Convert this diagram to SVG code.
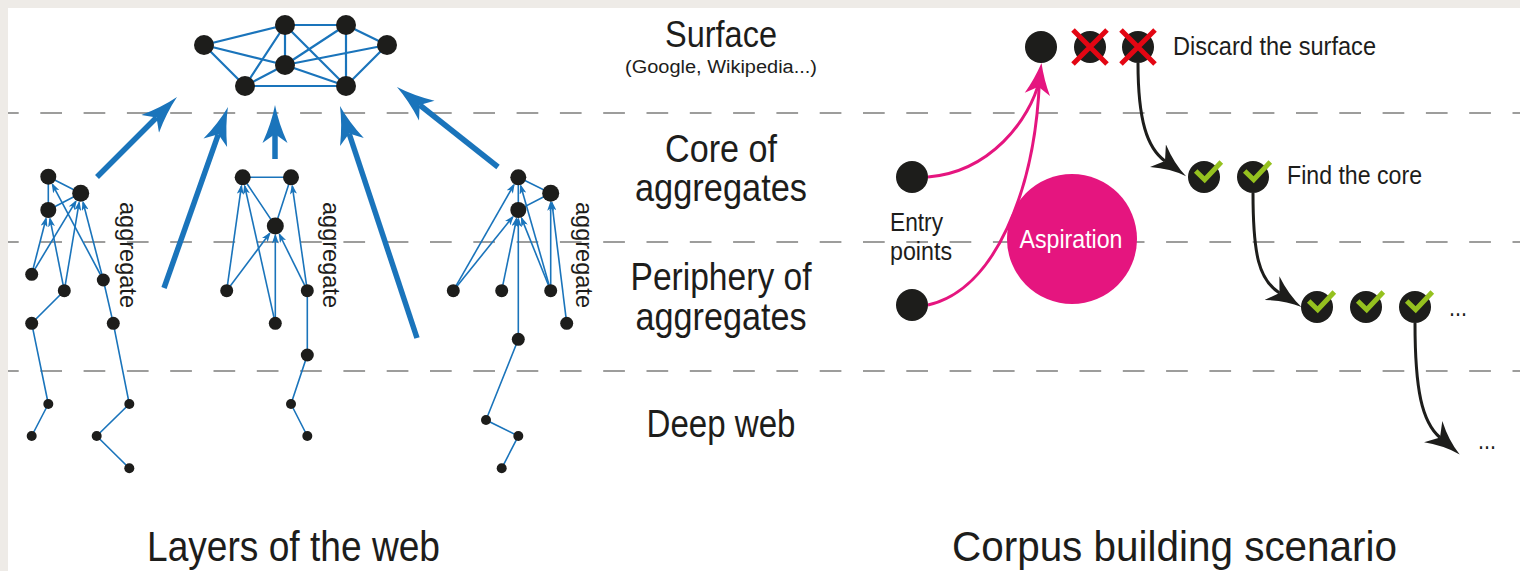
<svg xmlns="http://www.w3.org/2000/svg" width="1520" height="571" viewBox="0 0 1520 571">
<style>
.dash{stroke:#9d9d9c;stroke-width:2;stroke-dasharray:21.7 21.6;stroke-dashoffset:11;fill:none}
.net{stroke:#1a74bb;stroke-width:2.2;fill:none}
.thin{stroke:#1a74bb;stroke-width:1.6;fill:none}
.tarr{stroke:#1a74bb;stroke-width:1.6;fill:none;marker-end:url(#smallHead)}
.big{stroke:#1a74bb;stroke-width:5.5;fill:none;marker-end:url(#bigHead)}
.n{fill:#1d1d1b}
.t{font-family:"Liberation Sans",Arial,sans-serif;fill:#1d1d1b}
.pink{stroke:#e5157f;stroke-width:3;fill:none}
.blk{stroke:#1d1d1b;stroke-width:3;fill:none;marker-end:url(#blkHead)}
</style>
<defs>
<marker id="bigHead" markerUnits="userSpaceOnUse" viewBox="0 0 38 26" markerWidth="38" markerHeight="26" refX="9" refY="13" orient="auto"><path d="M0,0.5 Q20,9.5 38,13 Q20,16.5 0,25.5 L9,13 Z" fill="#1a74bb"/></marker>
<marker id="smallHead" markerUnits="userSpaceOnUse" viewBox="0 0 10 7" markerWidth="10" markerHeight="7" refX="8" refY="3.5" orient="auto"><path d="M0,0 L10,3.5 L0,7 L2.5,3.5 Z" fill="#1a74bb"/></marker>
<marker id="blkHead" markerUnits="userSpaceOnUse" viewBox="0 0 35 28" markerWidth="35" markerHeight="28" refX="9" refY="14" orient="auto"><path d="M0,0 Q18,11 35,14 Q18,17 0,28 L9,14 Z" fill="#1d1d1b"/></marker>
<g id="chk"><polyline points="-8.3,-6 0.7,2.7 17.3,-15" fill="none" stroke="#95c11f" stroke-width="5"/></g>
<g id="crs"><path d="M-17,-17 L17,17 M17,-17 L-17,17" stroke="#e30613" stroke-width="5"/></g>
</defs>

<rect x="0" y="0" width="1520" height="571" fill="#eeebe7"/>
<rect x="8" y="8" width="1512" height="563" fill="#ffffff"/>

<g id="layer-lines">
<line class="dash" x1="8" y1="113" x2="1520" y2="113"/>
<line class="dash" x1="8" y1="242" x2="1520" y2="242"/>
<line class="dash" x1="8" y1="371" x2="1520" y2="371"/>
</g>

<g id="connectors">
<path class="net" d="M204,45 L285,25 M204,45 L285,65 M204,45 L245,86 M285,25 L346,25 M285,25 L285,65 M285,25 L245,86 M285,25 L346,86 M346,25 L285,65 M346,25 L346,86 M346,25 L387,45 M387,45 L285,65 M387,45 L346,86 M285,65 L245,86 M285,65 L346,86 M245,86 L346,86"/>
<path class="big" d="M97,177 L156.5,117.5"/>
<path class="big" d="M164,288 L218.3,134.3"/>
<path class="big" d="M275,159 L275,134"/>
<path class="big" d="M417,338 L349.1,133.5"/>
<path class="big" d="M498,167 L419.7,105"/>
<path class="thin" d="M48.3,176.7 L80.7,193.3 M48.3,176.7 L48.3,210 M48.3,210 L80.7,193.3 M64.3,290.7 L31.7,323.3 L48.3,404 L31.7,436 M103.3,280 L113.3,323.3 L129.3,404 L96.7,436 L129.3,468.3"/>
<line class="tarr" x1="31.7" y1="274.3" x2="46" y2="218.7"/>
<line class="tarr" x1="31.7" y1="274.3" x2="75.8" y2="201.4"/>
<line class="tarr" x1="64.3" y1="290.7" x2="50" y2="218.8"/>
<line class="tarr" x1="64.3" y1="290.7" x2="79.1" y2="202.7"/>
<line class="tarr" x1="103.3" y1="280" x2="52.5" y2="184.6"/>
<line class="tarr" x1="103.3" y1="280" x2="83.1" y2="202.5"/>
<path class="thin" d="M242.7,177.3 L291,177.3 L275.3,226 Z M307.3,290.7 L307.3,355 L291,404 L307.3,436"/>
<line class="tarr" x1="226.7" y1="290.7" x2="241.4" y2="186.2"/>
<line class="tarr" x1="226.7" y1="290.7" x2="269.6" y2="233.6"/>
<line class="tarr" x1="275.3" y1="323.3" x2="244.7" y2="186.1"/>
<line class="tarr" x1="275.3" y1="323.3" x2="275.3" y2="235.5"/>
<line class="tarr" x1="307.3" y1="290.7" x2="292.3" y2="186.2"/>
<line class="tarr" x1="307.3" y1="290.7" x2="279.5" y2="234.5"/>
<path class="thin" d="M518.3,177.3 L550.7,193.3 L518.3,210 Z M518.3,339.3 L486,420 L518.3,436 L501.7,468.3"/>
<line class="tarr" x1="453.3" y1="290.7" x2="513.8" y2="185.1"/>
<line class="tarr" x1="453.3" y1="290.7" x2="512.7" y2="217"/>
<line class="tarr" x1="501.7" y1="290.7" x2="516.5" y2="218.8"/>
<line class="tarr" x1="518.3" y1="339.3" x2="518.3" y2="219"/>
<line class="tarr" x1="550.7" y1="290.7" x2="521.6" y2="218.4"/>
<line class="tarr" x1="550.7" y1="290.7" x2="520.8" y2="186"/>
<line class="tarr" x1="550.7" y1="290.7" x2="550.7" y2="202.8"/>
<line class="tarr" x1="566.7" y1="323.3" x2="551.9" y2="202.7"/>
<path class="pink" d="M928,177 C990,172 1030,120 1039.5,80"/>
<path class="pink" d="M928,305 C995,290 1035,190 1039.5,80"/>
<path d="M1041.5,63 Q1044,80 1050,96 L1038.4,86.8 L1024.8,92.7 Q1034,80 1041.5,63 Z" fill="#e5157f"/>
<path class="blk" d="M1138,63 C1138,120 1147,148 1165,161"/>
<path class="blk" d="M1253,193 C1253,255 1259,280 1279.5,293"/>
<path class="blk" d="M1415,323 C1415,390 1422,422 1440,437.5"/>
</g>

<g id="surface-network">
<circle class="n" cx="204" cy="45" r="10"/>
<circle class="n" cx="285" cy="25" r="10"/>
<circle class="n" cx="346" cy="25" r="10"/>
<circle class="n" cx="387" cy="45" r="10"/>
<circle class="n" cx="285" cy="65" r="10"/>
<circle class="n" cx="245" cy="86" r="10"/>
<circle class="n" cx="346" cy="86" r="10"/>
</g>

<g id="aggregate-1">
<circle class="n" cx="48.3" cy="176.7" r="8"/>
<circle class="n" cx="80.7" cy="193.3" r="8.5"/>
<circle class="n" cx="48.3" cy="210" r="8"/>
<circle class="n" cx="31.7" cy="274.3" r="6.5"/>
<circle class="n" cx="64.3" cy="290.7" r="6.5"/>
<circle class="n" cx="103.3" cy="280" r="6.5"/>
<circle class="n" cx="31.7" cy="323.3" r="6.5"/>
<circle class="n" cx="113.3" cy="323.3" r="6.5"/>
<circle class="n" cx="48.3" cy="404" r="5"/>
<circle class="n" cx="31.7" cy="436" r="5"/>
<circle class="n" cx="129.3" cy="404" r="5"/>
<circle class="n" cx="96.7" cy="436" r="5"/>
<circle class="n" cx="129.3" cy="468.3" r="5"/>
<text class="t" transform="translate(120,202) rotate(90)" font-size="23" textLength="106" lengthAdjust="spacingAndGlyphs">aggregate</text>
</g>

<g id="aggregate-2">
<circle class="n" cx="242.7" cy="177.3" r="8"/>
<circle class="n" cx="291" cy="177.3" r="8"/>
<circle class="n" cx="275.3" cy="226" r="8.5"/>
<circle class="n" cx="226.7" cy="290.7" r="6.5"/>
<circle class="n" cx="275.3" cy="323.3" r="6.5"/>
<circle class="n" cx="307.3" cy="290.7" r="6.5"/>
<circle class="n" cx="307.3" cy="355" r="6.5"/>
<circle class="n" cx="291" cy="404" r="5"/>
<circle class="n" cx="307.3" cy="436" r="5"/>
<text class="t" transform="translate(323,202) rotate(90)" font-size="23" textLength="106" lengthAdjust="spacingAndGlyphs">aggregate</text>
</g>

<g id="aggregate-3">
<circle class="n" cx="518.3" cy="177.3" r="8"/>
<circle class="n" cx="550.7" cy="193.3" r="8.5"/>
<circle class="n" cx="518.3" cy="210" r="8"/>
<circle class="n" cx="453.3" cy="290.7" r="6.5"/>
<circle class="n" cx="501.7" cy="290.7" r="6.5"/>
<circle class="n" cx="550.7" cy="290.7" r="6.5"/>
<circle class="n" cx="566.7" cy="323.3" r="6.5"/>
<circle class="n" cx="518.3" cy="339.3" r="6.5"/>
<circle class="n" cx="486" cy="420" r="5"/>
<circle class="n" cx="518.3" cy="436" r="5"/>
<circle class="n" cx="501.7" cy="468.3" r="5"/>
<text class="t" transform="translate(576,202) rotate(90)" font-size="23" textLength="106" lengthAdjust="spacingAndGlyphs">aggregate</text>
</g>

<g id="layer-labels">
<text class="t" x="721" y="47" font-size="37" text-anchor="middle" textLength="112" lengthAdjust="spacingAndGlyphs">Surface</text>
<text class="t" x="721" y="73" font-size="18" text-anchor="middle" textLength="192" lengthAdjust="spacingAndGlyphs">(Google, Wikipedia...)</text>
<text class="t" x="721" y="162" font-size="38" text-anchor="middle" textLength="112" lengthAdjust="spacingAndGlyphs">Core of</text>
<text class="t" x="721" y="201" font-size="38" text-anchor="middle" textLength="172" lengthAdjust="spacingAndGlyphs">aggregates</text>
<text class="t" x="721" y="290" font-size="38" text-anchor="middle" textLength="181" lengthAdjust="spacingAndGlyphs">Periphery of</text>
<text class="t" x="721" y="330" font-size="38" text-anchor="middle" textLength="171" lengthAdjust="spacingAndGlyphs">aggregates</text>
<text class="t" x="721" y="437" font-size="38" text-anchor="middle" textLength="149" lengthAdjust="spacingAndGlyphs">Deep web</text>
</g>

<g id="entry-points">
<circle class="n" cx="912" cy="177" r="16"/>
<circle class="n" cx="912" cy="305" r="16"/>
<text class="t" x="890" y="231" font-size="25" textLength="53" lengthAdjust="spacingAndGlyphs">Entry</text>
<text class="t" x="890" y="260" font-size="25" textLength="62" lengthAdjust="spacingAndGlyphs">points</text>
</g>

<g id="aspiration">
<circle cx="1072" cy="239" r="65" fill="#e5157f"/>
<text x="1071" y="248" font-size="25" text-anchor="middle" textLength="103" lengthAdjust="spacingAndGlyphs" font-family="Liberation Sans, Arial, sans-serif" fill="#ffffff">Aspiration</text>
</g>

<g id="surface-nodes">
<circle class="n" cx="1041" cy="47" r="16"/>
<circle class="n" cx="1090" cy="47" r="16"/>
<use href="#crs" x="1090" y="47"/>
<circle class="n" cx="1138" cy="47" r="16"/>
<use href="#crs" x="1138" y="47"/>
<text class="t" x="1173" y="55" font-size="25" textLength="203" lengthAdjust="spacingAndGlyphs">Discard the surface</text>
</g>

<g id="core-nodes">
<circle class="n" cx="1204" cy="177" r="16"/>
<use href="#chk" x="1204" y="177"/>
<circle class="n" cx="1253" cy="177" r="16"/>
<use href="#chk" x="1253" y="177"/>
<text class="t" x="1287" y="184" font-size="25" textLength="135" lengthAdjust="spacingAndGlyphs">Find the core</text>
</g>

<g id="periphery-nodes">
<circle class="n" cx="1317" cy="307" r="16"/>
<use href="#chk" x="1317" y="307"/>
<circle class="n" cx="1366" cy="307" r="16"/>
<use href="#chk" x="1366" y="307"/>
<circle class="n" cx="1415" cy="307" r="16"/>
<use href="#chk" x="1415" y="307"/>
<text class="t" x="1449" y="316" font-size="25" textLength="18" lengthAdjust="spacingAndGlyphs">...</text>
</g>

<g id="deep-node">
<text class="t" x="1478" y="449" font-size="25" textLength="18" lengthAdjust="spacingAndGlyphs">...</text>
</g>

<g id="titles">
<text class="t" x="147" y="561" font-size="43" textLength="293" lengthAdjust="spacingAndGlyphs">Layers of the web</text>
<text class="t" x="952" y="561" font-size="43" textLength="445" lengthAdjust="spacingAndGlyphs">Corpus building scenario</text>
</g>
</svg>
